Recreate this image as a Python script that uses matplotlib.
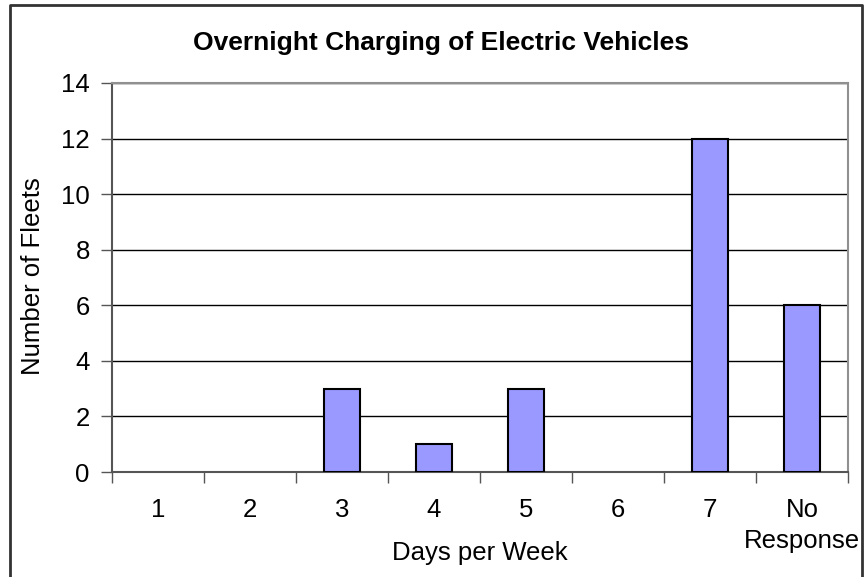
import numpy as np
from matplotlib import pyplot as plt
from matplotlib.lines import Line2D

categories = ['1', '2', '3', '4', '5', '6', '7', 'No\nResponse']
fleets = [0, 0, 3, 1, 3, 0, 12, 6]
yticks = [0, 2, 4, 6, 8, 10, 12, 14]

plt.rcParams['font.family'] = ['Liberation Sans', 'DejaVu Sans']
fs = 18.5

fig = plt.figure(figsize=(8.65, 5.77), dpi=100)
ax = fig.add_axes([112 / 865, 1 - 472 / 577, 736 / 865, 389 / 577])

x = np.arange(len(categories))
widths = [1.5 if v > 0 else 0 for v in fleets]
ax.bar(x, fleets, width=0.4, color='#9999FF', edgecolor='black', linewidth=widths, zorder=3)

ax.set_xlim(-0.5, len(categories) - 0.5)
ax.set_ylim(0, 14)
ax.set_yticks(yticks)
ax.set_yticklabels([str(v) for v in yticks], fontsize=fs)
ax.yaxis.grid(True, color='black', linewidth=1)
ax.set_axisbelow(True)

# category labels in the middle, tick marks on the boundaries
ax.set_xticks(np.arange(len(categories) + 1) - 0.5)
ax.set_xticklabels([])
ax.tick_params(axis='x', length=8, width=1, color='#555555', direction='out')
ax.tick_params(axis='y', length=8, width=1, color='#555555', direction='out', pad=8)
for i, c in enumerate(categories):
    ax.text(i, -0.95, c, ha='center', va='top', fontsize=fs, linespacing=1.35)

for s in ['left', 'bottom']:
    ax.spines[s].set_color('#555555')
    ax.spines[s].set_linewidth(1.5)
for s in ['top', 'right']:
    ax.spines[s].set_color('#909090')
    ax.spines[s].set_linewidth(1.5)

fig.text(33 / 865, 1 - 276 / 577, 'Number of Fleets', ha='center', va='center',
         rotation=90, fontsize=fs)
fig.text(480 / 865, 1 - 553 / 577, 'Days per Week', ha='center', va='center', fontsize=fs)
fig.text(441 / 865, 1 - 43 / 577, 'Overnight Charging of Electric Vehicles',
         ha='center', va='center', fontsize=19, fontweight='bold')

# chart border (bottom edge runs off the picture)
bx = [10 / 865, 10 / 865, 862 / 865, 862 / 865]
by = [0, 1 - 5 / 577, 1 - 5 / 577, 0]
fig.add_artist(Line2D(bx, by, color='#333333', linewidth=2, transform=fig.transFigure))

fig.savefig('out.png', dpi=100)
